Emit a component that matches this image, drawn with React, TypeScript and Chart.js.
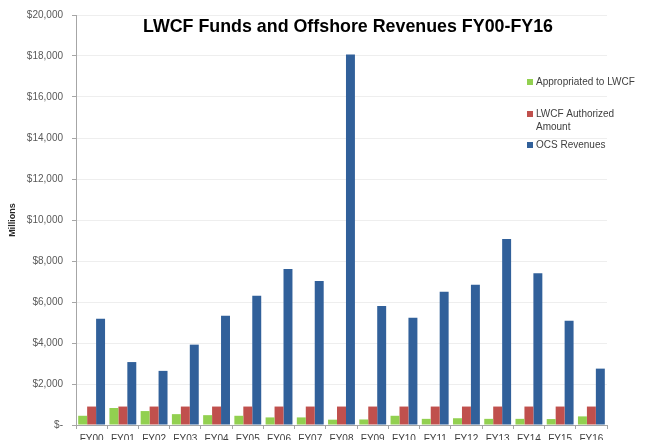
import React, { useEffect, useRef } from "react";
import { Chart, registerables } from "chart.js";

Chart.register(...registerables);

const categories = ["FY00", "FY01", "FY02", "FY03", "FY04", "FY05", "FY06", "FY07", "FY08", "FY09", "FY10", "FY11", "FY12", "FY13", "FY14", "FY15", "FY16"];
const appropriated = [450, 830, 680, 530, 480, 450, 370, 370, 260, 270, 450, 300, 330, 300, 300, 290, 420];
const authorized = [900, 900, 900, 900, 900, 900, 900, 900, 900, 900, 900, 900, 900, 900, 900, 900, 900];
const ocsRevenues = [5180, 3070, 2640, 3920, 5330, 6300, 7610, 7020, 18070, 5810, 5230, 6500, 6840, 9070, 7400, 5080, 2750];
const seriesNames = ["Appropriated to LWCF", "LWCF Authorized Amount", "OCS Revenues"];
const yTicks = [0, 2000, 4000, 6000, 8000, 10000, 12000, 14000, 16000, 18000, 20000];

const GREEN = "#92d050";
const RED = "#c0504d";
const BLUE = "#31609a";
const FONT = "'Liberation Sans', Arial, sans-serif";

const overlayPlugin = {
  id: "overlay",
  afterDraw(chart: any) {
    const ctx = chart.ctx as CanvasRenderingContext2D;
    ctx.save();
    // Title
    ctx.font = `bold 19px ${FONT}`;
    const title = "LWCF Funds and Offshore Revenues FY00-FY16";
    const w = ctx.measureText(title).width;
    const target = 410;
    const sx = target / w;
    ctx.fillStyle = "#000000";
    ctx.textBaseline = "middle";
    ctx.textAlign = "left";
    ctx.translate(143, 27);
    ctx.scale(sx, 1);
    ctx.fillText(title, 0, 0);
    ctx.restore();

    // Y axis title
    ctx.save();
    ctx.font = `bold 9px ${FONT}`;
    ctx.fillStyle = "#262626";
    ctx.textAlign = "center";
    ctx.textBaseline = "middle";
    ctx.translate(13, 220);
    ctx.rotate(-Math.PI / 2);
    ctx.fillText("Millions", 0, 0);
    ctx.restore();

    // Legend
    ctx.save();
    ctx.font = `10px ${FONT}`;
    ctx.fillStyle = "#404040";
    ctx.textBaseline = "middle";
    ctx.textAlign = "left";
    const items = [
      { color: GREEN, lines: [seriesNames[0]], y: 82 },
      { color: RED, lines: ["LWCF Authorized", "Amount"], y: 114 },
      { color: BLUE, lines: [seriesNames[2]], y: 145 },
    ];
    for (const it of items) {
      ctx.fillStyle = it.color;
      ctx.fillRect(527, it.y - 3, 6, 6);
      ctx.fillStyle = "#404040";
      it.lines.forEach((ln, i) => ctx.fillText(ln, 536, it.y + i * 13));
    }
    ctx.restore();
  },
};

export default function App() {
  const ref = useRef<HTMLCanvasElement | null>(null);
  useEffect(() => {
    if (!ref.current) return;
    const chart = new Chart(ref.current, {
      type: "bar",
      data: {
        labels: categories,
        datasets: [
          { label: seriesNames[0], data: appropriated, backgroundColor: GREEN, borderWidth: 0 },
          { label: seriesNames[1], data: authorized, backgroundColor: RED, borderWidth: 0 },
          { label: seriesNames[2], data: ocsRevenues, backgroundColor: BLUE, borderWidth: 0 },
        ],
      },
      options: {
        animation: false,
        responsive: false,
        maintainAspectRatio: false,
        datasets: { bar: { categoryPercentage: 0.86, barPercentage: 1.0 } },
        layout: { padding: { left: 0, right: 65, top: 14, bottom: 0 } },
        plugins: {
          legend: { display: false },
          title: { display: false },
          tooltip: { enabled: false },
        },
        scales: {
          x: {
            grid: { drawOnChartArea: false, drawTicks: true, tickLength: 4, color: "#a6a6a6" },
            border: { color: "#a6a6a6" },
            ticks: { font: { family: FONT, size: 10 }, color: "#404040", padding: 4, autoSkip: false, maxRotation: 0 },
            afterFit: (s: any) => { s.height = 15; },
          },
          y: {
            min: 0,
            max: 20000,
            afterBuildTicks: (s: any) => { s.ticks = yTicks.map((v) => ({ value: v })); },
            ticks: {
              font: { family: FONT, size: 10 },
              color: "#595959",
              padding: 9,
              callback: (v: any) => (Number(v) === 0 ? "$-" : "$" + Number(v).toLocaleString("en-US")),
            },
            grid: { color: "#eeeeee", tickColor: "#a6a6a6", tickLength: 4 },
            border: { color: "#a6a6a6" },
            afterFit: (s: any) => { s.width = 76; },
          },
        },
      },
      plugins: [overlayPlugin],
    });
    return () => chart.destroy();
  }, []);
  return (
    <div style={{ position: "fixed", left: 0, top: 0, width: 672, height: 440, background: "#fff" }}>
      <canvas ref={ref} width={672} height={440} style={{ width: 672, height: 440 }} />
    </div>
  );
}
